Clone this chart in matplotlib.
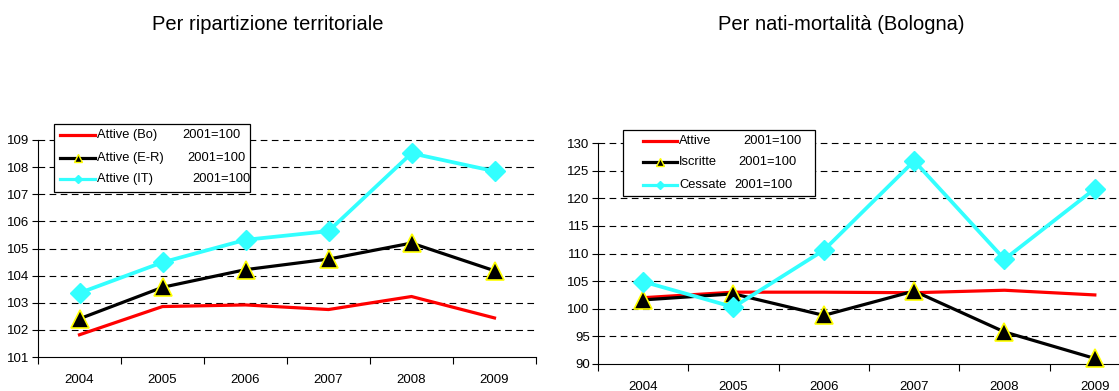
import matplotlib
matplotlib.use("Agg")
import matplotlib.pyplot as plt
from matplotlib.lines import Line2D
from matplotlib.patches import Rectangle

plt.rcParams["font.family"] = ["Liberation Sans", "DejaVu Sans"]

years = ["2004", "2005", "2006", "2007", "2008", "2009"]

# Per ripartizione territoriale (2001=100)
attive_bo = [101.82, 102.86, 102.92, 102.75, 103.23, 102.44]
attive_er = [102.41, 103.57, 104.22, 104.61, 105.20, 104.18]
attive_it = [103.36, 104.49, 105.32, 105.64, 108.51, 107.85]

# Per nati-mortalità, Bologna (2001=100)
attive = [102.0, 103.0, 103.0, 102.9, 103.35, 102.5]
iscritte = [101.6, 102.7, 98.8, 103.2, 95.8, 91.0]
cessate = [104.9, 100.3, 110.6, 126.75, 108.95, 121.7]

left_names = ["Attive (Bo)", "Attive (E-R)", "Attive (IT)"]
right_names = ["Attive", "Iscritte", "Cessate"]
base_label = "2001=100"

RED = "#ff0000"
BLACK = "#000000"
CYAN = "#33ffff"
YELLOW = "#ffff00"

W, H = 1119, 391
fig = plt.figure(figsize=(W / 100, H / 100), dpi=100)


def fx(px):
    return px / W


def fy(py):
    return 1 - py / H


fig.text(fx(268), fy(24), "Per ripartizione territoriale", ha="center",
         va="center", fontsize=14.5, fontstretch="condensed")
fig.text(fx(841), fy(24), "Per nati-mortalità (Bologna)", ha="center",
         va="center", fontsize=14.5, fontstretch="condensed")


def style_axes(ax, ylo, yhi, step):
    x = list(range(len(years)))
    ax.set_xlim(-0.5, len(years) - 0.5)
    ax.set_ylim(ylo, yhi)
    ax.set_yticks(list(range(ylo, yhi + 1, step)))
    ax.set_xticks(x)
    ax.set_xticklabels(years, fontsize=9.5)
    ax.set_xticks([i + 0.5 for i in range(-1, len(years))], minor=True)
    ax.tick_params(axis="x", which="major", length=0, pad=12)
    ax.tick_params(axis="x", which="minor", length=5, direction="out", width=0.8)
    ax.tick_params(axis="y", length=4, direction="out", labelsize=9.5,
                   width=0.8, pad=2)
    for s in ("top", "right"):
        ax.spines[s].set_visible(False)
    for s in ("left", "bottom"):
        ax.spines[s].set_linewidth(0.8)
    for v in range(ylo + step, yhi + 1, step):
        ax.axhline(v, color="black", lw=0.8, ls=(0, (6, 4)), zorder=0,
                   clip_on=False)


def draw(ax, a, b, c):
    x = list(range(len(years)))
    ax.plot(x, a, color=RED, lw=2.3, zorder=3, clip_on=False)
    ax.plot(x, b, color=BLACK, lw=2.3, marker="^", ms=13.5,
            markerfacecolor=BLACK, markeredgecolor=YELLOW, markeredgewidth=1.2,
            zorder=4, clip_on=False)
    ax.plot(x, c, color=CYAN, lw=2.7, marker="D", ms=10,
            markerfacecolor=CYAN, markeredgecolor=CYAN, zorder=5, clip_on=False)


def legend_box(box, line_x, text_x, value_x, rows, names):
    x0, y0, x1, y1 = box
    fig.add_artist(Rectangle((fx(x0), fy(y1)), fx(x1 - x0), (y1 - y0) / H,
                             transform=fig.transFigure, facecolor="white",
                             edgecolor="black", lw=0.9, zorder=20))
    styles = [
        dict(color=RED, lw=2.3),
        dict(color=BLACK, lw=2.3, marker="^", ms=6, markerfacecolor=BLACK,
             markeredgecolor=YELLOW, markevery=[1]),
        dict(color=CYAN, lw=2.3, marker="D", ms=4, markerfacecolor=CYAN,
             markeredgecolor=CYAN, markevery=[1]),
    ]
    mid = (line_x[0] + line_x[1]) / 2
    for row, name, vx, st in zip(rows, names, value_x, styles):
        fig.add_artist(Line2D([fx(line_x[0]), fx(mid), fx(line_x[1])],
                              [fy(row)] * 3, transform=fig.transFigure,
                              zorder=21, **st))
        fig.text(fx(text_x), fy(row), name, ha="left", va="center",
                 fontsize=9.3, zorder=22)
        fig.text(fx(vx), fy(row), base_label, ha="left", va="center",
                 fontsize=9.3, zorder=22)


# left panel
ax1 = fig.add_axes([fx(38), fy(357), fx(536 - 38), (357 - 140) / H])
style_axes(ax1, 101, 109, 1)
draw(ax1, attive_bo, attive_er, attive_it)
legend_box((54, 124, 250, 192), (60, 95), 97, (182, 187, 192),
           (135, 158, 179), left_names)

# right panel
ax2 = fig.add_axes([fx(598), fy(364), fx(1140 - 598), (364 - 143) / H])
style_axes(ax2, 90, 130, 5)
draw(ax2, attive, iscritte, cessate)
legend_box((623, 130, 815, 196), (643, 677), 679, (743, 738, 734),
           (141, 162, 185), right_names)

fig.savefig("out.png", dpi=100)
